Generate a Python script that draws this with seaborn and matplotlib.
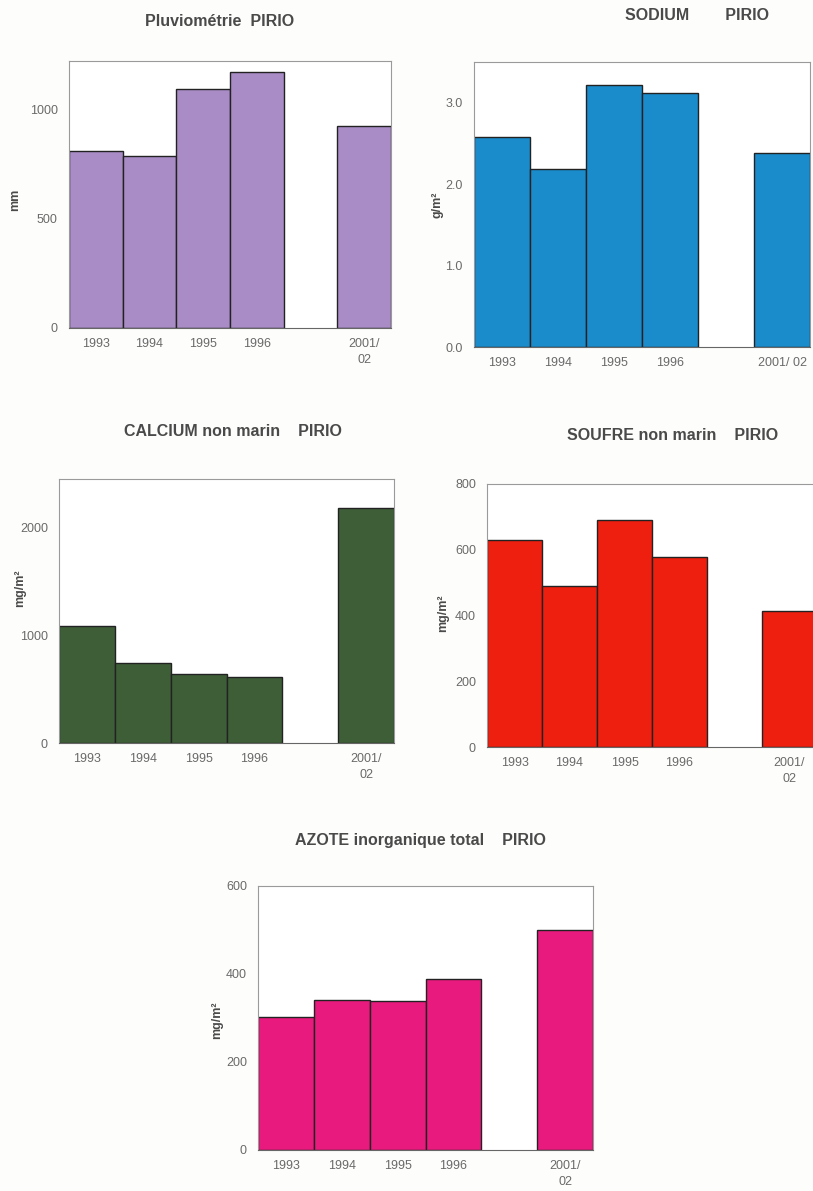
import pandas as pd
import matplotlib
matplotlib.use("Agg")
import matplotlib.pyplot as plt
import seaborn as sns

# values
years = ["1993", "1994", "1995", "1996", "2001/02"]
pluvio = [808, 787, 1094, 1172, 924]
sodium = [2.58, 2.18, 3.22, 3.12, 2.38]
calcium = [1090, 740, 640, 610, 2180]
soufre = [630, 490, 690, 578, 415]
azote = [302, 340, 338, 388, 500]

# x slots: one empty slot between 1996 and 2001/02
slots = ["1993", "1994", "1995", "1996", "gap", "2001/02"]
labels_2l = ["1993", "1994", "1995", "1996", "", "2001/\n02"]
labels_1l = ["1993", "1994", "1995", "1996", "", "2001/ 02"]

sns.set_theme(style="white")
plt.rcParams["font.family"] = ["Liberation Sans", "DejaVu Sans"]

W, H = 813, 1191
fig = plt.figure(figsize=(W / 100, H / 100), dpi=100)
fig.patch.set_facecolor("#fdfdfb")

TXT = "#4a4a4a"
TICK = "#6a6a6a"


def px_axes(l, t, r, b):
    return fig.add_axes([l / W, 1 - b / H, (r - l) / W, (b - t) / H])


def panel(box, values, color, ylim, yticks, fmt, ylabel, ylab_xy,
          title, title_xy, xlabels):
    ax = px_axes(*box)
    df = pd.DataFrame({"annee": years, "val": values})
    sns.barplot(data=df, x="annee", y="val", order=slots, color=color,
                saturation=1, width=1.0, edgecolor="#222222", linewidth=1.0,
                ax=ax)
    ax.set_xlim(-0.5, 5.5)
    ax.set_ylim(*ylim)
    ax.set_yticks(yticks)
    ax.set_yticklabels([fmt.format(v) for v in yticks])
    ax.set_xticks(range(6))
    ax.set_xticklabels(xlabels, linespacing=1.5)
    ax.set_xlabel("")
    ax.set_ylabel("")
    ax.tick_params(axis="y", length=2, width=0.6, color="#aaaaaa",
                   labelsize=9, labelcolor=TICK, pad=6)
    ax.tick_params(axis="x", length=0, labelsize=9, labelcolor=TICK, pad=7)
    ax.set_facecolor("white")
    for s in ax.spines.values():
        s.set_visible(True)
        s.set_color("#9a9a9a")
        s.set_linewidth(0.8)
    ax.spines["bottom"].set_color("#666666")
    fig.text(ylab_xy[0] / W, 1 - ylab_xy[1] / H, ylabel, rotation=90,
             ha="center", va="center", fontsize=9, fontweight="bold",
             color=TXT)
    fig.text(title_xy[0] / W, 1 - title_xy[1] / H, title, ha="center",
             va="center", fontsize=11.5, fontweight="bold", color=TXT)
    return ax


panel((69, 61, 391, 328), pluvio, "#a98bc6", (0, 1220), [0, 500, 1000],
      "{:.0f}", "mm", (15, 200), "Pluviométrie  PIRIO", (220, 22), labels_2l)

panel((474, 62, 810, 347), sodium, "#1a8bcb", (0, 3.5), [0, 1, 2, 3],
      "{:.1f}", "g/m²", (437, 205), "SODIUM        PIRIO", (697, 16),
      labels_1l)

panel((59, 479, 394, 743), calcium, "#3e5e38", (0, 2450), [0, 1000, 2000],
      "{:.0f}", "mg/m²", (20, 588), "CALCIUM non marin    PIRIO", (233, 432),
      labels_2l)

panel((487, 484, 817, 747), soufre, "#ee1f0e", (0, 800),
      [0, 200, 400, 600, 800], "{:.0f}", "mg/m²", (443, 613),
      "SOUFRE non marin    PIRIO", (673, 435), labels_2l)

panel((258, 886, 593, 1150), azote, "#e91a7e", (0, 600), [0, 200, 400, 600],
      "{:.0f}", "mg/m²", (217, 1020), "AZOTE inorganique total    PIRIO",
      (420, 840), labels_2l)

fig.savefig("out.png", dpi=100, facecolor=fig.get_facecolor())
